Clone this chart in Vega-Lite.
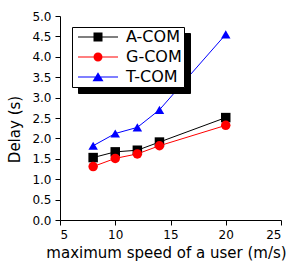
{
  "$schema": "https://vega.github.io/schema/vega-lite/v6.json",
  "width": 221,
  "height": 204,
  "autosize": {"type": "none"},
  "padding": {"left": 60, "top": 16, "right": 15, "bottom": 49},
  "background": "white",
  "config": {
    "view": {"stroke": null},
    "font": "DejaVu Sans",
    "axis": {
      "grid": false,
      "domainColor": "black",
      "domainWidth": 1,
      "tickColor": "black",
      "tickWidth": 1,
      "tickSize": 5,
      "labelFont": "DejaVu Sans",
      "labelFontSize": 12,
      "labelColor": "black",
      "labelPadding": 4,
      "titleFont": "DejaVu Sans",
      "titleFontSize": 15,
      "titleFontWeight": "normal",
      "titleColor": "black"
    },
    "legend": {
      "orient": "none",
      "padding": 2,
      "rowPadding": 4,
      "symbolOffset": 16,
      "labelOffset": 20,
      "labelFont": "DejaVu Sans",
      "labelFontSize": 16,
      "labelColor": "black",
      "symbolSize": 100,
      "strokeColor": "black",
      "title": null
    }
  },
  "data": {
    "values": [
      {"x": 8, "y": 1.53, "series": "A-COM", "s2": "A-COM"},
      {"x": 10, "y": 1.67, "series": "A-COM", "s2": "A-COM"},
      {"x": 12, "y": 1.71, "series": "A-COM", "s2": "A-COM"},
      {"x": 14, "y": 1.91, "series": "A-COM", "s2": "A-COM"},
      {"x": 20, "y": 2.51, "series": "A-COM", "s2": "A-COM"},
      {"x": 8, "y": 1.31, "series": "G-COM", "s2": "G-COM"},
      {"x": 10, "y": 1.51, "series": "G-COM", "s2": "G-COM"},
      {"x": 12, "y": 1.62, "series": "G-COM", "s2": "G-COM"},
      {"x": 14, "y": 1.82, "series": "G-COM", "s2": "G-COM"},
      {"x": 20, "y": 2.32, "series": "G-COM", "s2": "G-COM"},
      {"x": 8, "y": 1.82, "series": "T-COM", "s2": "T-COM"},
      {"x": 10, "y": 2.12, "series": "T-COM", "s2": "T-COM"},
      {"x": 12, "y": 2.27, "series": "T-COM", "s2": "T-COM"},
      {"x": 14, "y": 2.7, "series": "T-COM", "s2": "T-COM"},
      {"x": 20, "y": 4.55, "series": "T-COM", "s2": "T-COM"}
    ]
  },
  "encoding": {
    "x": {
      "field": "x",
      "type": "quantitative",
      "scale": {"domain": [5, 25], "nice": false},
      "axis": {
        "values": [5, 10, 15, 20, 25],
        "format": "d",
        "labelPadding": 4,
        "title": "maximum speed of a user (m/s)",
        "titleX": 106,
        "titleY": 37,
        "titleAlign": "center",
        "titleBaseline": "alphabetic"
      }
    },
    "y": {
      "field": "y",
      "type": "quantitative",
      "scale": {"domain": [0, 5], "nice": false},
      "axis": {
        "values": [0, 0.5, 1, 1.5, 2, 2.5, 3, 3.5, 4, 4.5, 5],
        "format": ".1f",
        "title": "Delay (s)",
        "titleX": -46,
        "titleY": 113,
        "titleAngle": 270,
        "titleAlign": "center",
        "titleBaseline": "middle"
      }
    }
  },
  "layer": [
    {
      "mark": {"type": "line", "strokeWidth": 1},
      "encoding": {
        "color": {
          "field": "series",
          "type": "nominal",
          "scale": {"domain": ["A-COM", "G-COM", "T-COM"], "range": ["#000000", "#ff0000", "#0000ff"]},
          "legend": null
        }
      }
    },
    {
      "mark": {"type": "point", "filled": true, "size": 90, "opacity": 1, "strokeWidth": 0},
      "encoding": {
        "color": {
          "field": "series",
          "type": "nominal",
          "scale": {"domain": ["A-COM", "G-COM", "T-COM"], "range": ["#000000", "#ff0000", "#0000ff"]},
          "legend": null
        },
        "shape": {
          "field": "series",
          "type": "nominal",
          "scale": {"domain": ["A-COM", "G-COM", "T-COM"], "range": ["square", "circle", "triangle-up"]},
          "legend": null
        }
      }
    },
    {
      "mark": {"type": "point", "filled": true, "size": 100, "opacity": 0, "strokeWidth": 0},
      "encoding": {
        "color": {
          "field": "s2",
          "type": "nominal",
          "scale": {"domain": ["A-COM", "G-COM", "T-COM"], "range": ["#000000", "#ff0000", "#0000ff"]},
          "legend": {
            "legendX": 12,
            "legendY": 11,
            "fillColor": "white",
            "symbolOpacity": 1,
            "zindex": 2
          }
        },
        "shape": {
          "field": "s2",
          "type": "nominal",
          "scale": {
            "domain": ["A-COM", "G-COM", "T-COM"],
            "range": [
              "M-4,-0.1H4V0.1H-4ZM-0.9,-0.9H0.9V0.9H-0.9Z",
              "M-4,-0.1H4V0.1H-4ZM-0.9,0A0.9,0.9,0,1,1,0.9,0A0.9,0.9,0,1,1,-0.9,0Z",
              "M-4,-0.1H4V0.1H-4ZM0,-0.95L1.1,0.85H-1.1Z"
            ]
          },
          "legend": {
            "legendX": 12,
            "legendY": 11,
            "fillColor": "white",
            "symbolOpacity": 1,
            "zindex": 2
          }
        }
      }
    },
    {
      "mark": {"type": "point", "opacity": 0},
      "encoding": {
        "size": {
          "field": "s2",
          "type": "ordinal",
          "scale": {"range": [256, 256, 256]},
          "legend": {
            "legendX": 18,
            "legendY": 17,
            "fillColor": "black",
            "strokeColor": "black",
            "labelExpr": "''",
            "labelOffset": 76,
            "symbolOpacity": 0,
            "symbolStrokeWidth": 0,
            "zindex": 1
          }
        }
      }
    }
  ],
  "resolve": {"scale": {"color": "independent", "shape": "independent"}}
}
